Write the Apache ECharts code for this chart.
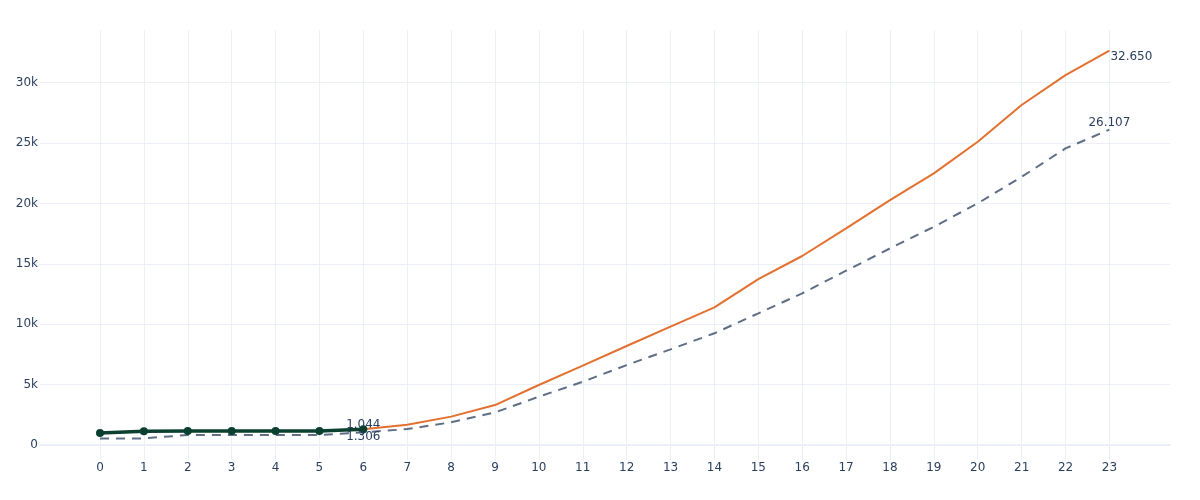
<!DOCTYPE html>
<html>
<head>
<meta charset="utf-8">
<script src="https://cdn.jsdelivr.net/npm/echarts@6/dist/echarts.min.js"></script>
<style>
html,body{margin:0;padding:0;background:#fff;}
#chart{width:1200px;height:500px;}
</style>
</head>
<body>
<div id="chart"></div>
<script>
const xValues = [0,1,2,3,4,5,6,7,8,9,10,11,12,13,14,15,16,17,18,19,20,21,22,23];
const yTicks = [0, 5000, 10000, 15000, 20000, 25000, 30000];
const actual = [1000, 1130, 1170, 1170, 1170, 1170, 1306];
const forecast = [null, null, null, null, null, null, 1306, 1680, 2350, 3310, 4970, 6570, 8200, 9800, 11400, 13740, 15650, 17940, 20280, 22490, 25110, 28150, 30630, 32650];
const baseline = [550, 550, 830, 830, 830, 830, 1044, 1320, 1880, 2700, 4000, 5240, 6620, 7920, 9250, 10900, 12560, 14430, 16280, 18070, 20010, 22200, 24560, 26107];

const FONT = '"DejaVu Sans", Verdana, sans-serif';
const TXT = '#2a3f5f';
const GRID = '#EBF0F8';
const fmtVal = v => (v / 1000).toFixed(3);

function pairs(arr, labelAt) {
  return arr.map((v, i) => {
    if (v === null) return [xValues[i], null];
    const item = { value: [xValues[i], v] };
    if (labelAt && labelAt[i]) item.label = Object.assign({ show: true, formatter: fmtVal(v), color: TXT, fontSize: 12, fontFamily: FONT }, labelAt[i]);
    return item;
  });
}

const chart = echarts.init(document.getElementById('chart'), null, { renderer: 'canvas' });
chart.setOption({
  animation: false,
  backgroundColor: '#fff',
  textStyle: { fontFamily: FONT },
  grid: [
    { left: 40, right: 30, top: 82.7, bottom: 55, containLabel: false },
    { left: 100, right: 90.6, top: 30, bottom: 40, containLabel: false }
  ],
  xAxis: [
    { gridIndex: 0, type: 'value', min: 0, max: 1, show: true,
      axisLine: { show: true, lineStyle: { color: GRID, width: 2 } },
      axisTick: { show: false }, axisLabel: { show: false }, splitLine: { show: false } },
    { gridIndex: 1, type: 'value', min: 0, max: 23, interval: 1,
      axisLine: { show: false }, axisTick: { show: false },
      axisLabel: { color: TXT, fontSize: 12, fontFamily: FONT, margin: 2 },
      splitLine: { show: true, lineStyle: { color: GRID, width: 1 } } }
  ],
  yAxis: [
    { gridIndex: 0, type: 'value', min: yTicks[0], max: yTicks[yTicks.length - 1], interval: 5000,
      axisLine: { show: false }, axisTick: { show: false },
      axisLabel: { color: TXT, fontSize: 12, fontFamily: FONT, margin: 2,
        formatter: v => v === 0 ? '0' : (v / 1000) + 'k' },
      splitLine: { show: true, lineStyle: { color: GRID, width: 1 } } },
    { gridIndex: 1, type: 'value', min: -1240, max: 34360, show: false, splitLine: { show: false } }
  ],
  series: [
    { name: 'baseline', type: 'line', xAxisIndex: 1, yAxisIndex: 1,
      data: pairs(baseline, { 6: { position: 'top', distance: 2 }, 23: { position: 'top', distance: 1 } }),
      symbol: 'circle', symbolSize: 0.01, showSymbol: true,
      lineStyle: { color: '#5f6e85', width: 2, type: [9, 7] },
      itemStyle: { color: '#5f6e85' }, z: 2 },
    { name: 'forecast', type: 'line', xAxisIndex: 1, yAxisIndex: 1,
      data: pairs(forecast, { 23: { position: 'right', distance: 1, offset: [0, 6] } }),
      symbol: 'circle', symbolSize: 0.01, showSymbol: true, connectNulls: false,
      lineStyle: { color: '#e2702f', width: 2 },
      itemStyle: { color: '#e2702f' }, z: 3 },
    { name: 'actual', type: 'line', xAxisIndex: 1, yAxisIndex: 1,
      data: pairs(actual, { 6: { position: 'bottom', distance: 0, offset: [0, -2] } }),
      symbol: 'circle', symbolSize: 8, showSymbol: true,
      lineStyle: { color: '#0b3f2f', width: 3.5 },
      itemStyle: { color: '#0b3f2f' }, z: 4 }
  ]
});
</script>
</body>
</html>
